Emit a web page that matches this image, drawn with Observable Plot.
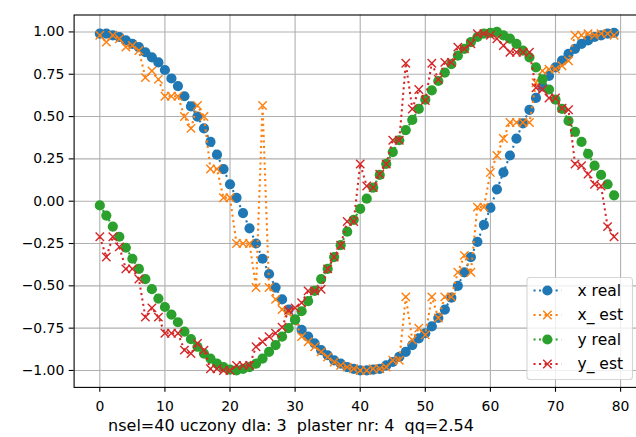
<!DOCTYPE html>
<html>
<head>
<meta charset="utf-8">
<script src="https://cdn.jsdelivr.net/npm/d3@7"></script>
<script src="https://cdn.jsdelivr.net/npm/@observablehq/plot@0.6"></script>
<style>
  html, body { margin: 0; padding: 0; background: #fff; overflow: hidden; }
  #chart svg { display: block; }
</style>
</head>
<body>
<div id="chart"></div>
<script>
// ---- data ----
const sampleIndex = d3.range(80);

const xReal = [0.99, 0.99, 0.98, 0.97, 0.95, 0.93, 0.91, 0.88, 0.85, 0.82,
  0.775, 0.725, 0.68, 0.62, 0.56, 0.50, 0.43, 0.35, 0.275, 0.19,
  0.10, 0.02, -0.07, -0.16, -0.25, -0.34, -0.43, -0.51, -0.58, -0.64,
  -0.70, -0.76, -0.80, -0.84, -0.88, -0.91, -0.94, -0.96, -0.98, -0.99,
  -1.0, -1.0, -0.995, -0.99, -0.97, -0.95, -0.92, -0.89, -0.85, -0.81,
  -0.78, -0.74, -0.69, -0.64, -0.57, -0.50, -0.42, -0.33, -0.24, -0.14,
  -0.04, 0.07, 0.17, 0.27, 0.37, 0.46, 0.54, 0.61, 0.68, 0.74,
  0.79, 0.83, 0.87, 0.90, 0.93, 0.95, 0.97, 0.98, 0.99, 0.995];

const xEst = [0.98, 0.94, 0.98, 0.96, 0.91, 0.92, 0.89, 0.73, 0.77, 0.72,
  0.62, 0.62, 0.62, 0.50, 0.43, 0.565, 0.50, 0.19, 0.19, 0.02,
  0.02, -0.25, -0.25, -0.25, -0.51, 0.565, -0.51, -0.58, -0.64, -0.66,
  -0.71, -0.80, -0.83, -0.86, -0.89, -0.92, -0.95, -0.97, -0.98, -0.99,
  -1.0, -1.0, -0.99, -0.99, -0.98, -0.94, -0.94, -0.565, -0.82, -0.75,
  -0.79, -0.565, -0.69, -0.565, -0.565, -0.42, -0.32, -0.42, -0.035, -0.035,
  0.17, 0.27, 0.37, 0.465, 0.465, 0.465, 0.465, 0.70, 0.77, 0.78,
  0.78, 0.80, 0.83, 0.98, 0.98, 0.99, 0.98, 0.99, 0.99, 0.98];

const yReal = [-0.025, -0.085, -0.15, -0.21, -0.275, -0.34, -0.40, -0.46, -0.52, -0.575,
  -0.625, -0.67, -0.715, -0.77, -0.815, -0.86, -0.90, -0.93, -0.96, -0.98,
  -0.995, -1.0, -0.99, -0.98, -0.96, -0.93, -0.89, -0.85, -0.80, -0.75,
  -0.70, -0.65, -0.59, -0.53, -0.46, -0.40, -0.33, -0.26, -0.18, -0.11,
  -0.045, 0.015, 0.08, 0.155, 0.22, 0.29, 0.36, 0.42, 0.48, 0.545,
  0.60, 0.655, 0.71, 0.76, 0.81, 0.86, 0.90, 0.94, 0.97, 0.99,
  0.995, 1.0, 0.98, 0.96, 0.93, 0.89, 0.85, 0.79, 0.72, 0.66,
  0.60, 0.545, 0.475, 0.41, 0.35, 0.28, 0.21, 0.155, 0.10, 0.035];

const yEst = [-0.21, -0.33, -0.21, -0.27, -0.40, -0.40, -0.46, -0.685, -0.63, -0.685,
  -0.78, -0.78, -0.78, -0.88, -0.90, -0.84, -0.88, -0.99, -0.99, -1.0,
  -1.0, -0.97, -0.97, -0.97, -0.86, -0.83, -0.80, -0.78, -0.745, -0.645,
  -0.63, -0.60, -0.53, -0.53, -0.52, -0.40, -0.33, -0.26, -0.12, -0.12,
  0.22, 0.09, 0.08, 0.16, 0.22, 0.36, 0.36, 0.815, 0.545, 0.66,
  0.595, 0.815, 0.72, 0.82, 0.82, 0.91, 0.90, 0.93, 0.99, 0.99,
  0.98, 0.96, 0.92, 0.88, 0.88, 0.88, 0.88, 0.67, 0.66, 0.61,
  0.61, 0.55, 0.54, 0.22, 0.21, 0.16, 0.10, 0.09, -0.15, -0.21];

const seriesNames = ["x real", "x_ est", "y real", "y_ est"];
const seriesColors = ["#1f77b4", "#ff7f0e", "#2ca02c", "#d62728"];
const seriesSymbols = ["circle", "times", "circle", "times"];
const seriesValues = [xReal, xEst, yReal, yEst];

const xTicks = [0, 10, 20, 30, 40, 50, 60, 70, 80];
const yTicks = [-1.0, -0.75, -0.5, -0.25, 0.0, 0.25, 0.5, 0.75, 1.0];
const captionText = "nsel=40 uczony dla: 3  plaster nr: 4  qq=2.54";

// ---- build ----
const FONT = "DejaVu Sans";
const FS = 13.9;
const CAP_FS = 16;
const LEG_FS = 15.5;
const DOT_DASH = "2.08,3.44";
const R_CIRCLE = 5.1;

const marks = [
  Plot.gridX(xTicks, {stroke: "#b0b0b0", strokeOpacity: 1, strokeWidth: 1.1}),
  Plot.gridY(yTicks, {stroke: "#b0b0b0", strokeOpacity: 1, strokeWidth: 1.1})
];

seriesValues.forEach((vals, s) => {
  const rows = sampleIndex.map(i => ({i, v: vals[i]}));
  marks.push(Plot.line(rows, {
    x: "i", y: "v", stroke: seriesColors[s], strokeWidth: 2.08,
    strokeDasharray: DOT_DASH, strokeLinecap: "butt", strokeLinejoin: "round", curve: "linear"
  }));
  if (seriesSymbols[s] === "circle") {
    marks.push(Plot.dot(rows, {x: "i", y: "v", r: R_CIRCLE, fill: seriesColors[s], stroke: "none", symbol: "circle"}));
  } else {
    marks.push(Plot.dot(rows, {x: "i", y: "v", r: 3.9, symbol: "times", stroke: seriesColors[s], strokeWidth: 1.4, fill: "none"}));
  }
});

marks.push(
  Plot.frame({stroke: "#000", strokeWidth: 1.1}),
  Plot.axisX(xTicks, {tickSize: 4.9, tickPadding: 8.5, fontSize: FS, stroke: "#000", strokeWidth: 1.1, fill: "#000", label: null, tickFormat: d => String(d)}),
  Plot.axisY(yTicks, {tickSize: 4.9, tickPadding: 4.9, fontSize: FS, stroke: "#000", strokeWidth: 1.1, fill: "#000", label: null, tickFormat: d3.format(".2f")}),
  Plot.text([captionText], {frameAnchor: "bottom-left", text: d => d, textAnchor: "start", lineAnchor: "bottom", dx: 34, dy: 44, fontSize: CAP_FS, fill: "#000"})
);

const plot = Plot.plot({
  width: 636,
  height: 437,
  marginLeft: 73.6,
  marginRight: -3.3,
  marginTop: 14.5,
  marginBottom: 50.1,
  style: {fontFamily: FONT, fontSize: FS + "px", background: "#fff", color: "#000"},
  x: {domain: [-3.95, 82.95], label: null},
  y: {domain: [-1.1, 1.1], label: null},
  marks
});

// ---- legend (matplotlib style, lower right inside axes) ----
const svg = d3.select(plot);
const lg = svg.append("g").attr("font-family", FONT).attr("font-size", LEG_FS).attr("text-anchor", "start");
lg.append("rect")
  .attr("x", 527).attr("y", 277.5).attr("width", 105.5).attr("height", 102)
  .attr("rx", 3).attr("ry", 3)
  .attr("fill", "#fff").attr("fill-opacity", 0.8)
  .attr("stroke", "#cccccc").attr("stroke-opacity", 0.8).attr("stroke-width", 1.1);
const rowY = [290.5, 315, 339.5, 364];
seriesNames.forEach((name, s) => {
  const cy = rowY[s];
  lg.append("line").attr("x1", 533.5).attr("x2", 561.3).attr("y1", cy).attr("y2", cy)
    .attr("stroke", seriesColors[s]).attr("stroke-width", 2.08)
    .attr("stroke-dasharray", DOT_DASH).attr("stroke-linecap", "butt");
  if (seriesSymbols[s] === "circle") {
    lg.append("circle").attr("cx", 547.4).attr("cy", cy).attr("r", R_CIRCLE).attr("fill", seriesColors[s]);
  } else {
    const h = 4.2;
    lg.append("path").attr("d", `M${547.4 - h},${cy - h}L${547.4 + h},${cy + h}M${547.4 - h},${cy + h}L${547.4 + h},${cy - h}`)
      .attr("stroke", seriesColors[s]).attr("stroke-width", 1.4).attr("fill", "none");
  }
  lg.append("text").attr("x", 577.5).attr("y", cy).attr("dy", "0.35em").attr("fill", "#000").attr("text-anchor", "start").text(name);
});

document.getElementById("chart").appendChild(plot);
</script>
</body>
</html>
